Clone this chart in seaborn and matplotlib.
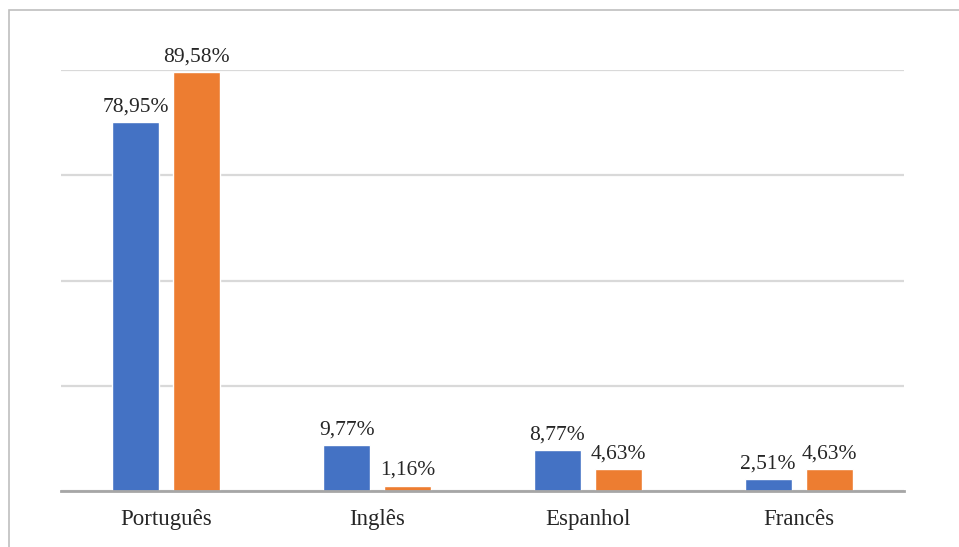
import pandas as pd
import seaborn as sns
import matplotlib.pyplot as plt
from matplotlib.patches import Rectangle

# values (percent)
categories = ['Português', 'Inglês', 'Espanhol', 'Francês']
series_a = [78.95, 9.77, 8.77, 2.51]
series_b = [89.58, 1.16, 4.63, 4.63]
series_names = ['A', 'B']
colors = ['#4472C4', '#ED7D31']

df = pd.DataFrame({
    'Idioma': categories * 2,
    'Valor': series_a + series_b,
    'Serie': [series_names[0]] * len(categories) + [series_names[1]] * len(categories),
})

sns.set_theme(style='white')
plt.rcParams['font.family'] = ['Liberation Serif', 'DejaVu Serif']

W, H = 959, 547
fig = plt.figure(figsize=(W / 100, H / 100), dpi=100)
ax = fig.add_axes([61 / W, (H - 491) / H, (904 - 61) / W, (491 - 70) / H])

sns.barplot(data=df, x='Idioma', y='Valor', hue='Serie', palette=colors,
            width=0.579, gap=0.23, ax=ax, legend=False, saturation=1)

ax.set_ylim(0, 90)
ax.set_yticks([0, 22.5, 45, 67.5, 90])
ax.yaxis.grid(True, color='#D9D9D9', linewidth=1.6)
ax.set_axisbelow(True)
ax.set_yticklabels([])
ax.tick_params(axis='y', length=0)
ax.tick_params(axis='x', length=0, pad=13, labelsize=16.5)
ax.set_xlabel('')
ax.set_ylabel('')

for side in ['top', 'right', 'left']:
    ax.spines[side].set_visible(False)
ax.spines['bottom'].set_color('#A6A6A6')
ax.spines['bottom'].set_linewidth(2)

for cont in ax.containers:
    labels = [f'{v:.2f}%'.replace('.', ',') for v in cont.datavalues]
    ax.bar_label(cont, labels=labels, padding=4, fontsize=15.5)

# outer chart border (cut off at right and bottom)
fig.add_artist(Rectangle((9 / W, -0.1), 1.0, 1.1 - 10 / H, transform=fig.transFigure,
                         fill=False, edgecolor='#BFBFBF', linewidth=1.2))

fig.savefig('out.png', dpi=100, facecolor='white')
